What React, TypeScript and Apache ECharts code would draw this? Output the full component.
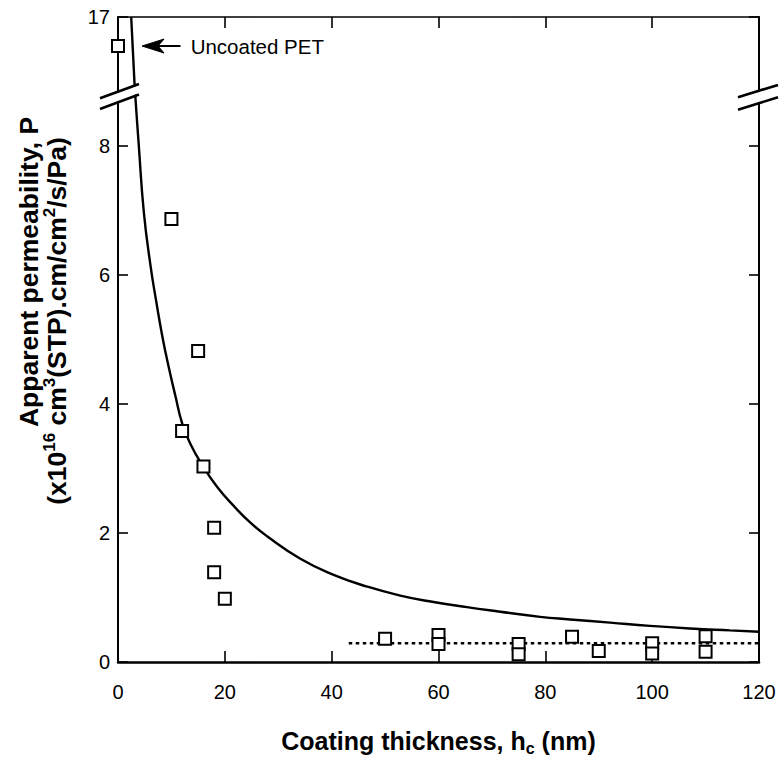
import React, { useEffect, useRef } from "react";
import * as echarts from "echarts";

// ---- data (real values, P in 1e-16 cm3(STP).cm/cm2/s/Pa) ----
const xTicks = [0, 20, 40, 60, 80, 100, 120];
const yTicks = [0, 2, 4, 6, 8, 17];

const thickness = [0, 10, 12, 15, 16, 18, 18, 20, 50, 60, 60, 75, 75, 85, 90, 100, 100, 110, 110];
const permeability = [16.55, 6.87, 3.58, 4.82, 3.03, 2.08, 1.39, 0.98, 0.36, 0.42, 0.28, 0.28, 0.12, 0.39, 0.17, 0.29, 0.13, 0.4, 0.16];

const fitThickness = [2.47, 3.09, 3.27, 3.89, 4.83, 6.08, 7.2, 8.32, 9.45, 10.76, 12.01, 13.56, 15.94, 18.61, 21.66, 24.78, 27.91, 34.14, 40.37, 46.61, 52.84, 59.07, 65.32, 71.55, 79.03, 84.64, 92.13, 99.6, 107.09, 114.57, 120];
const fitPermeability = [17.0, 15.97, 8.74, 8.01, 6.98, 6.15, 5.57, 5.04, 4.59, 4.12, 3.7, 3.38, 3.03, 2.71, 2.42, 2.16, 1.95, 1.6, 1.35, 1.17, 1.03, 0.93, 0.85, 0.78, 0.7, 0.66, 0.61, 0.56, 0.52, 0.49, 0.47];

const plateauThickness = [43.2, 120];
const plateauPermeability = [0.29, 0.29];

// ---- broken axis: values above the break are shifted down ----
const BREAK_THRESHOLD = 12;
const BREAK_OFFSET = 7;
const BREAK_MARK_DISPLAY = 8.76;
const toDisplay = (v: number) => (v > BREAK_THRESHOLD ? v - BREAK_OFFSET : v);
const fromDisplay = (v: number) => (v > 9 ? v + BREAK_OFFSET : v);

// annotation anchors (data units)
const ARROW_TIP_H = 4.5;
const ARROW_TAIL_H = 11.7;
const ANNOT_TEXT_H = 13.6;
const ANNOT_TEXT = "Uncoated PET";

const FONT = "'Liberation Sans', Arial, Helvetica, sans-serif";

export default function App() {
  const ref = useRef<HTMLDivElement>(null);

  useEffect(() => {
    if (!ref.current) return;
    const chart = echarts.init(ref.current, null, { renderer: "svg" });

    const scatterData = thickness.map((h, i) => [h, toDisplay(permeability[i])]);
    const fitData = fitThickness.map((h, i) => [h, toDisplay(fitPermeability[i])]);
    const plateauData = plateauThickness.map((h, i) => [h, toDisplay(plateauPermeability[i])]);

    const xMin = xTicks[0];
    const xMax = xTicks[xTicks.length - 1];
    const yMin = yTicks[0];
    const yMax = toDisplay(yTicks[yTicks.length - 1]);

    const axisLabelStyle = { color: "#000", fontSize: 20, fontFamily: FONT };

    chart.setOption({
      animation: false,
      backgroundColor: "#fff",
      grid: { left: 118, right: 23, top: 17, bottom: 97, outerBoundsMode: "none", containLabel: false },
      xAxis: [
        {
          type: "value", min: xMin, max: xMax, interval: 20, position: "bottom",
          axisLine: { show: true, onZero: false, lineStyle: { color: "#000", width: 2.5 } },
          axisTick: { show: true, inside: true, length: 11, lineStyle: { color: "#000", width: 1.6 } },
          axisLabel: { ...axisLabelStyle, margin: 20 },
          splitLine: { show: false },
        },
        {
          type: "value", min: xMin, max: xMax, interval: 20, position: "top",
          axisLine: { show: true, onZero: false, lineStyle: { color: "#000", width: 1.6 } },
          axisTick: { show: true, inside: true, length: 11, lineStyle: { color: "#000", width: 1.6 } },
          axisLabel: { show: false },
          splitLine: { show: false },
        },
      ],
      yAxis: [
        {
          type: "value", min: yMin, max: yMax, interval: 2, position: "left",
          axisLine: { show: true, onZero: false, lineStyle: { color: "#000", width: 2 } },
          axisTick: { show: true, inside: true, length: 10, lineStyle: { color: "#000", width: 1.6 } },
          axisLabel: { ...axisLabelStyle, margin: 8, formatter: (v: number) => String(fromDisplay(v)) },
          splitLine: { show: false },
        },
        {
          type: "value", min: yMin, max: yMax, interval: 2, position: "right",
          axisLine: { show: true, onZero: false, lineStyle: { color: "#000", width: 2 } },
          axisTick: { show: true, inside: true, length: 10, lineStyle: { color: "#000", width: 1.6 } },
          axisLabel: { show: false },
          splitLine: { show: false },
        },
      ],
      series: [
        {
          type: "line", data: fitData, symbol: "none", smooth: 0.5,
          lineStyle: { color: "#000", width: 2.4 }, z: 2, silent: true,
        },
        {
          type: "line", data: plateauData, symbol: "none",
          lineStyle: { color: "#000", width: 2.4, type: [3.5, 3.5] }, z: 2, silent: true,
        },
        {
          type: "scatter", data: scatterData, symbol: "rect", symbolSize: 12, clip: false,
          itemStyle: { color: "#fff", borderColor: "#000", borderWidth: 2, opacity: 1 }, z: 3,
        },
      ],
    });

    const px = (h: number, d: number) => chart.convertToPixel({ gridIndex: 0 }, [h, d]) as number[];

    const breakMark = (cx: number, cy: number, dxL: number, dxR: number, s: number, half: number) => {
      const yu = (dx: number) => cy - half + s * dx;
      const yl = (dx: number) => cy + half + s * dx;
      return [
        {
          type: "polygon", z: 100,
          shape: { points: [[cx + dxL, yu(dxL) + 1.2], [cx + dxR, yu(dxR) + 1.2], [cx + dxR, yl(dxR) - 1.2], [cx + dxL, yl(dxL) - 1.2]] },
          style: { fill: "#fff", stroke: "none" },
        },
        { type: "line", z: 101, shape: { x1: cx + dxL, y1: yu(dxL), x2: cx + dxR, y2: yu(dxR) }, style: { stroke: "#000", lineWidth: 2.6 } },
        { type: "line", z: 101, shape: { x1: cx + dxL, y1: yl(dxL), x2: cx + dxR, y2: yl(dxR) }, style: { stroke: "#000", lineWidth: 2.6 } },
      ];
    };

    const bl = px(xMin, BREAK_MARK_DISPLAY);
    const br = px(xMax, BREAK_MARK_DISPLAY);
    const uncoatedY = toDisplay(permeability[0]);
    const tip = px(ARROW_TIP_H, uncoatedY);
    const tail = px(ARROW_TAIL_H, uncoatedY);
    const annot = px(ANNOT_TEXT_H, uncoatedY);
    const gridL = px(xMin, yMin);
    const gridR = px(xMax, yMin);
    const midX = (gridL[0] + gridR[0]) / 2;

    const mkRich = (size: number) => ({
      b: { fontSize: size, fontWeight: "bold", fontFamily: FONT, lineHeight: size + 5, fill: "#000" },
      sup: { fontSize: Math.round(size * 0.64), fontWeight: "bold", fontFamily: FONT, lineHeight: 14, verticalAlign: "top", fill: "#000" },
      sub: { fontSize: Math.round(size * 0.64), fontWeight: "bold", fontFamily: FONT, lineHeight: 8, verticalAlign: "bottom", fill: "#000" },
    });

    chart.setOption({
      graphic: [
        ...breakMark(bl[0], bl[1], -18, 21, -0.37, 5.3),
        ...breakMark(br[0], br[1], -21, 19, -0.31, 6.2),
        {
          type: "polygon", z: 100,
          shape: { points: [[tip[0], tip[1]], [tip[0] + 22, tip[1] - 7], [tip[0] + 16, tip[1]], [tip[0] + 22, tip[1] + 7]] },
          style: { fill: "#000", stroke: "#000", lineWidth: 1 },
        },
        { type: "line", z: 100, shape: { x1: tip[0] + 12, y1: tip[1], x2: tail[0], y2: tail[1] }, style: { stroke: "#000", lineWidth: 2 } },
        {
          type: "text", z: 100, x: annot[0], y: annot[1],
          style: { text: ANNOT_TEXT, fontSize: 20.5, fontFamily: FONT, fill: "#000", align: "left", verticalAlign: "middle", textAlign: "left", textVerticalAlign: "middle" },
        },
        {
          type: "text", z: 100, x: midX, y: 741,
          style: {
            text: "{b|Coating thickness, h}{sub|c}{b| (nm)}",
            rich: mkRich(25), align: "center", verticalAlign: "middle", textAlign: "center", textVerticalAlign: "middle",
          },
        },
        {
          type: "text", z: 100, x: 29, y: 272, rotation: Math.PI / 2,
          style: {
            text: "{b|Apparent permeability, P}",
            rich: mkRich(26.5), align: "center", verticalAlign: "middle", textAlign: "center", textVerticalAlign: "middle",
          },
        },
        {
          type: "text", z: 100, x: 57, y: 321, rotation: Math.PI / 2,
          style: {
            text: "{b|(x10}{sup|16}{b| cm}{sup|3}{b|(STP).cm/cm}{sup|2}{b|/s/Pa)}",
            rich: mkRich(26.5), align: "center", verticalAlign: "middle", textAlign: "center", textVerticalAlign: "middle",
          },
        },
      ],
    });

    return () => chart.dispose();
  }, []);

  return <div ref={ref} style={{ position: "fixed", left: 0, top: 0, width: 782, height: 759 }} />;
}
